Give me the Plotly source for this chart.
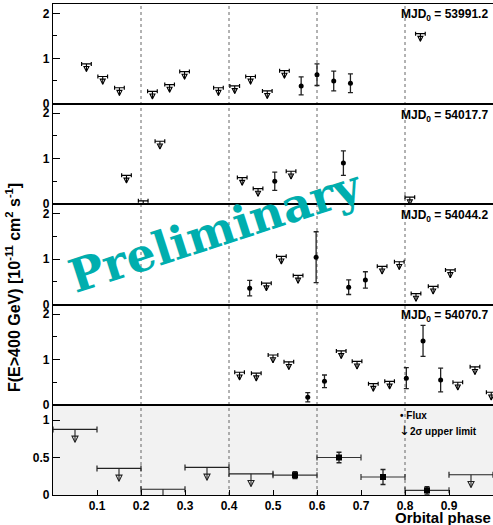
import plotly.graph_objects as go
from plotly.subplots import make_subplots

# ---------------- data ----------------
mjd_labels = ["53991.2", "54017.7", "54044.2", "54070.7"]

ul1_x = [0.076, 0.113, 0.151, 0.226, 0.265, 0.299, 0.376, 0.413, 0.449, 0.487, 0.526, 0.835]
ul1_y = [0.88, 0.60, 0.35, 0.27, 0.42, 0.71, 0.35, 0.39, 0.60, 0.28, 0.73, 1.55]
fl1_x = [0.564, 0.600, 0.638, 0.676]
fl1_y = [0.39, 0.64, 0.50, 0.45]
fl1_e = [0.20, 0.24, 0.22, 0.21]

ul2_x = [0.167, 0.205, 0.243, 0.430, 0.466, 0.541, 0.811]
ul2_y = [0.63, 0.07, 1.38, 0.58, 0.34, 0.72, 0.15]
fl2_x = [0.504, 0.660]
fl2_y = [0.50, 0.90]
fl2_e = [0.20, 0.27]

ul3_x = [0.485, 0.519, 0.557, 0.748, 0.787, 0.825, 0.864, 0.903]
ul3_y = [0.47, 1.06, 0.64, 0.84, 0.94, 0.24, 0.40, 0.76]
fl3_x = [0.447, 0.598, 0.672, 0.710]
fl3_y = [0.36, 1.04, 0.38, 0.54]
fl3_e = [0.17, 0.56, 0.16, 0.18]

ul4_x = [0.424, 0.462, 0.500, 0.536, 0.655, 0.691, 0.728, 0.765, 0.920, 0.959, 0.996]
ul4_y = [0.72, 0.70, 1.10, 0.95, 1.19, 0.96, 0.47, 0.52, 0.50, 0.84, 0.28]
fl4_x = [0.579, 0.617, 0.803, 0.841, 0.881]
fl4_y = [0.17, 0.52, 0.59, 1.41, 0.55]
fl4_e = [0.10, 0.14, 0.23, 0.34, 0.26]

bin_ul_x = [0.05, 0.15, 0.25, 0.35, 0.45, 0.95]
bin_ul_y = [0.875, 0.355, 0.077, 0.368, 0.283, 0.27]
bin_fl_x = [0.55, 0.65, 0.75, 0.85]
bin_fl_y = [0.265, 0.50, 0.24, 0.063]
bin_fl_e = [0.045, 0.07, 0.10, 0.05]
bin_half = 0.05

x_ticks = [0.1, 0.2, 0.3, 0.4, 0.5, 0.6, 0.7, 0.8, 0.9, 1.0]
x_ticktext = ["0.1", "0.2", "0.3", "0.4", "0.5", "0.6", "0.7", "0.8", "0.9", "1"]
phase_lines = [0.2, 0.4, 0.6, 0.8]

# ---------------- figure ----------------
W, H = 493, 525
ML, MR, MT, MB = 53, 0, 4, 30
PH = H - MT - MB

fig = make_subplots(rows=5, cols=1, shared_xaxes=True, vertical_spacing=0,
                    row_heights=[99.5, 100.5, 100.5, 100.5, 90])

FONT = "Liberation Sans"
panels = [
    (ul1_x, ul1_y, fl1_x, fl1_y, fl1_e),
    (ul2_x, ul2_y, fl2_x, fl2_y, fl2_e),
    (ul3_x, ul3_y, fl3_x, fl3_y, fl3_e),
    (ul4_x, ul4_y, fl4_x, fl4_y, fl4_e),
]

def add_ul(row, xs, ys, capw, stem, head, color, symbol, capwidth):
    n = len(xs)
    fig.add_trace(go.Scatter(
        x=xs, y=ys, mode="markers",
        marker=dict(size=1, color="rgba(0,0,0,0)"),
        error_x=dict(type="constant", value=capw, width=capwidth, thickness=1.2, color=color),
        error_y=dict(type="data", symmetric=False, array=[0] * n,
                     arrayminus=[stem] * n, width=0, thickness=1.1, color=color),
        showlegend=False, hoverinfo="skip"), row=row, col=1)
    fig.add_trace(go.Scatter(
        x=xs, y=[v - stem for v in ys], mode="markers",
        marker=dict(symbol=symbol, size=head, color=color, line=dict(color=color, width=1.1)),
        showlegend=False, hoverinfo="skip"), row=row, col=1)

for i, (ux, uy, fx, fy, fe) in enumerate(panels):
    r = i + 1
    add_ul(r, ux, uy, 0.011, 0.17, 5, "black", "arrow-down-open", 2)
    fig.add_trace(go.Scatter(
        x=fx, y=fy, mode="markers",
        marker=dict(symbol="circle", size=5, color="black"),
        error_y=dict(type="data", array=fe, width=2.5, thickness=1.3, color="#222"),
        showlegend=False), row=r, col=1)

add_ul(5, bin_ul_x, bin_ul_y, bin_half, 0.17, 6, "#222", "arrow-down-open", 3)
fig.add_trace(go.Scatter(
    x=bin_fl_x, y=bin_fl_y, mode="markers",
    marker=dict(symbol="square", size=6, color="black"),
    error_x=dict(type="constant", value=bin_half, width=3, thickness=1.2, color="#333"),
    error_y=dict(type="data", array=bin_fl_e, width=2.5, thickness=1.3, color="#222"),
    showlegend=False), row=5, col=1)

tickfont = dict(family=FONT, size=12, color="black", weight="bold")

tops = [4, 103.5, 204, 304.5, 405]
bots = [103.5, 204, 304.5, 405, 495]
for i in range(5):
    yname = "yaxis" if i == 0 else f"yaxis{i+1}"
    xname = "xaxis" if i == 0 else f"xaxis{i+1}"
    d0 = (495 - bots[i]) / PH
    d1 = (495 - tops[i]) / PH
    if i < 4:
        yax = dict(domain=[d0, d1], range=[0, 2.21], tickvals=[0, 1, 2], ticktext=["0", "1", "2"],
                   ticks="inside", ticklen=7, tickwidth=1, tickcolor="black",
                   minor=dict(tickvals=[0.5, 1.5], ticks="inside", ticklen=4, tickcolor="black"))
    else:
        yax = dict(domain=[d0, d1], range=[0, 1.2], tickvals=[0, 0.5, 1], ticktext=["0", "0.5", "1"],
                   ticks="inside", ticklen=7, tickwidth=1, tickcolor="black")
    yax.update(showline=True, linecolor="black", linewidth=1.2, mirror=True, showgrid=False,
               zeroline=False, tickfont=tickfont, automargin=False, fixedrange=True)
    fig.layout[yname].update(yax)
    xax = dict(range=[0, 1], showline=True, linecolor="black", linewidth=1, mirror=True,
               showgrid=False, zeroline=False, automargin=False, tickvals=x_ticks,
               ticktext=x_ticktext, tickfont=tickfont)
    if i == 4:
        xax.update(ticks="inside", ticklen=5, tickcolor="black", showticklabels=True)
    else:
        xax.update(ticks="", showticklabels=False)
    fig.layout[xname].update(xax)

shapes = [dict(type="rect", xref="x5 domain", yref="y5 domain", x0=0, x1=1, y0=0, y1=1,
               fillcolor="#f2f2f2", line=dict(width=0), layer="below")]
for p in phase_lines:
    shapes.append(dict(type="line", xref="x", yref="paper", x0=p, x1=p, y0=0, y1=1,
                       line=dict(color="#666", width=1, dash="dot"), layer="below"))

def px2x(px):
    return (px - ML) / 440.0

def py2y(py):
    return (495 - py) / PH

ann = []
mjd_centers = [15, 116, 216, 316]
for lab, cy in zip(mjd_labels, mjd_centers):
    ann.append(dict(x=px2x(490), y=py2y(cy), xref="paper", yref="paper", xanchor="right",
                    yanchor="middle", showarrow=False,
                    text=f"<b>MJD<sub>0</sub> = {lab}</b>",
                    font=dict(family=FONT, size=12, color="black")))
ann.append(dict(x=px2x(398), y=py2y(415), xref="paper", yref="paper", xanchor="left",
                yanchor="middle", showarrow=False, text="<b>• Flux</b>",
                font=dict(family=FONT, size=10, color="black")))
ann.append(dict(x=px2x(397), y=py2y(430), xref="paper", yref="paper", xanchor="left",
                yanchor="middle", showarrow=False,
                text="<span style='font-family:DejaVu Sans;font-size:13px'>↓</span><b>2σ upper limit</b>",
                font=dict(family=FONT, size=10, color="black")))
ann.append(dict(x=px2x(493), y=py2y(517), xref="paper", yref="paper", xanchor="right",
                yanchor="middle", showarrow=False, text="<b>Orbital phase</b>",
                font=dict(family=FONT, size=15, color="black")))
ann.append(dict(x=px2x(13), y=py2y(288), xref="paper", yref="paper", xanchor="center",
                yanchor="middle", showarrow=False, textangle=-90,
                text="<b>F(E>400 GeV) [10<sup>-11</sup> cm<sup>2</sup> s<sup>-1</sup>]</b>",
                font=dict(family=FONT, size=16, color="black")))
ann.append(dict(x=px2x(215), y=py2y(231), xref="paper", yref="paper", xanchor="center",
                yanchor="middle", showarrow=False, textangle=-18,
                text="<b>Preliminary</b>",
                font=dict(family="DejaVu Serif", size=46, color="#00AEAE")))

fig.update_layout(width=W, height=H, margin=dict(l=ML, r=MR, t=MT, b=MB),
                  plot_bgcolor="white", paper_bgcolor="white", showlegend=False,
                  shapes=shapes, annotations=ann)

fig.write_html("out.html", config={"displayModeBar": False},
               post_script="document.body.style.margin='0px';")
